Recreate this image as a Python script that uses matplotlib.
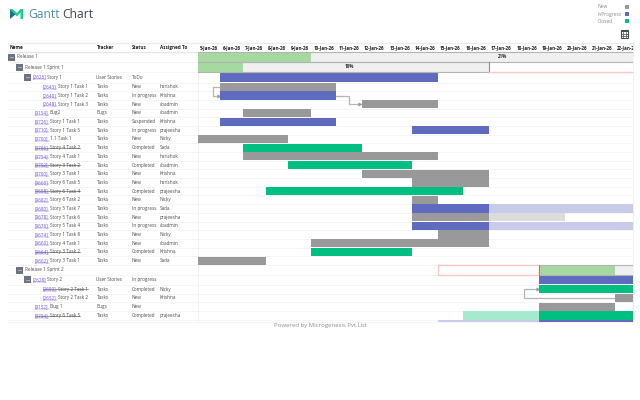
import numpy as np
import matplotlib
matplotlib.use('Agg')
import matplotlib.pyplot as plt
from matplotlib.patches import Polygon, Rectangle
from matplotlib.transforms import Bbox

plt.rcParams['font.family'] = ['Open Sans', 'DejaVu Sans']

# colours
BLUE = '#5f6bbf'
GRAY = '#999999'
GREEN = '#00bf81'
LIGHT_GREEN = '#a6d9a0'
LIGHT_BLUE = '#c8cbea'
LIGHT_GRAY = '#dcdcdc'
LIGHT_TEAL = '#a6e9cf'
TRACK = '#f0f0f0'
PINK = '#ffc6c6'
colors = {'new': GRAY, 'prog': BLUE, 'done': GREEN, 'sum': LIGHT_GREEN,
          'late_b': LIGHT_BLUE, 'late_g': LIGHT_GRAY, 'early': LIGHT_TEAL}

# the day columns, 5-Jan-26 onwards
day_labels = ['5-Jan-26', '6-Jan-26', '7-Jan-26', '8-Jan-26', '9-Jan-26', '10-Jan-26',
              '11-Jan-26', '12-Jan-26', '13-Jan-26', '14-Jan-26', '15-Jan-26', '16-Jan-26',
              '17-Jan-26', '18-Jan-26', '19-Jan-26', '20-Jan-26', '21-Jan-26', '22-Jan-26']
day_edges = [197.7, 220.4, 243, 265.7, 288.4, 311, 336.4, 361.6, 387, 412.4, 437.5, 463,
             488.5, 514, 539.3, 564.6, 590, 615, 640, 665]
day_index = np.arange(len(day_edges))

# table rows
row_ids = ['', '', '[2626]', '[2643]', '[2640]', '[2648]', '[9154]', '[9726]', '[9710]', '[9700]',
           '[9766]', '[9754]', '[9702]', '[9700]', '[9660]', '[9658]', '[9682]', '[9680]', '[9678]',
           '[9676]', '[9674]', '[9660]', '[9664]', '[9662]', '', '[2628]', '[2650]', '[2652]',
           '[9152]', '[9704]']
row_names = ['Release 1', 'Release 1 Sprint 1', 'Story 1', 'Story 1 Task 1', 'Story 1 Task 2',
             'Story 1 Task 3', 'Bug2', 'Story 1 Task 1', 'Story 1 Task 5', '1.1 Task 1',
             'Story 4 Task 2', 'Story 4 Task 1', 'Story 3 Task 2', 'Story 3 Task 1',
             'Story 6 Task 5', 'Story 6 Task 4', 'Story 6 Task 2', 'Story 5 Task 7',
             'Story 5 Task 6', 'Story 5 Task 4', 'Story 1 Task 8', 'Story 4 Task 1',
             'Story 3 Task 2', 'Story 3 Task 1', 'Release 1 Sprint 2', 'Story 2',
             'Story 2 Task 1', 'Story 2 Task 2', 'Bug 1', 'Story 6 Task 5']
trackers = ['', '', 'User Stories', 'Tasks', 'Tasks', 'Tasks', 'Bugs', 'Tasks', 'Tasks', 'Tasks',
            'Tasks', 'Tasks', 'Tasks', 'Tasks', 'Tasks', 'Tasks', 'Tasks', 'Tasks', 'Tasks',
            'Tasks', 'Tasks', 'Tasks', 'Tasks', 'Tasks', '', 'User Stories', 'Tasks', 'Tasks',
            'Bugs', 'Tasks']
statuses = ['', '', 'ToDo', 'New', 'In progress', 'New', 'New', 'Suspended', 'In progress', 'New',
            'Completed', 'New', 'Completed', 'New', 'New', 'Completed', 'New', 'In progress', 'New',
            'In progress', 'New', 'New', 'Completed', 'New', '', 'In progress', 'Completed', 'New',
            'New', 'Completed']
assignees = ['', '', '', 'harishok', 'Krishna', 'cbadmin', 'cbadmin', 'Krishna', 'prajeesha', 'Nicky',
             'Sada', 'harishok', 'cbadmin', 'Krishna', 'harishok', 'prajeesha', 'Nicky', 'Sada',
             'prajeesha', 'cbadmin', 'Nicky', 'cbadmin', 'Krishna', 'Sada', '', '', 'Nicky',
             'Krishna', '', 'prajeesha']
# row level: 0 release, 1 sprint, 2 story, 3 task under story, 4 loose task
levels = [0, 1, 2, 3, 3, 3, 4, 4, 4, 4, 4, 4, 4, 4, 4, 4, 4, 4, 4, 4, 4, 4, 4, 4, 1, 2, 3, 3, 4, 4]

# bars: row, first day, end day, kind (18 runs off the right edge)
bar_rows = [2, 3, 4, 5, 6, 7, 8, 9, 10, 11, 12, 13, 14, 15, 16, 17, 17, 18, 18, 19, 19, 20, 21, 22, 23,
            25, 26, 27, 28, 29, 29, 30, 30]
bar_start = [1, 1, 1, 7, 2, 1, 9, 0, 2, 2, 4, 7, 9, 3, 9, 9, 12, 9, 12, 9, 12, 10, 5, 5, 0,
             14, 14, 17, 14, 11, 14, 10, 14]
bar_end = [10, 6, 6, 10, 5, 6, 12, 4, 7, 10, 9, 12, 12, 11, 10, 12, 18, 12, 15, 12, 18, 12, 12, 9, 3,
           18, 18, 18, 17, 14, 18, 14, 18]
bar_kind = ['prog', 'new', 'prog', 'new', 'new', 'prog', 'prog', 'new', 'done', 'new', 'done', 'new',
            'new', 'done', 'new', 'prog', 'late_b', 'new', 'late_g', 'prog', 'late_b', 'new', 'new',
            'done', 'new', 'prog', 'done', 'new', 'new', 'early', 'done', 'late_b', 'prog']

# summary rows: row, track start, track end, done end, label
summary_rows = [0, 1, 24]
summary_start = [0, 0, 14]
summary_end = [18, 12, 18]
summary_done = [5, 2, 17]
summary_text = ['21%', '18%', '']

legend_names = ['New', 'InProgress', 'Closed']
legend_colors = [GRAY, BLUE, GREEN]

headers = ['Name', 'Tracker', 'Status', 'Assigned To']
header_x = [10, 96.5, 132, 159.5]

TEXT = 3.3

# row edges in pixels, group rows are a little taller
row_edges = [52, 62, 72, 82.5] + [82.5 + 8.69*i for i in range(1, 22)]
row_edges += [275, 284.7, 293.5, 302.3, 311.1, 320, 328.8]
row_edges = np.array(row_edges)
row_mid = (row_edges[:-1] + row_edges[1:])/2


def forward(x):
    return np.interp(x, day_index, day_edges)


def inverse(x):
    return np.interp(x, day_edges, day_index)


fig = plt.figure(figsize=(6.4, 4.0), dpi=100)
bg = fig.add_axes([0, 0, 1, 1])
bg.set_xlim(0, 640)
bg.set_ylim(400, 0)
bg.axis('off')
renderer = fig.canvas.get_renderer()

# logo and title
bg.add_patch(Polygon([[10, 9], [10, 19], [16, 14]], fc='#1f6f8f', ec='none'))
bg.add_patch(Polygon([[10, 9], [12.5, 9], [17, 13], [20.5, 9], [23, 9], [23, 19], [20.5, 19],
                      [20.5, 12.5], [17, 16.5]], fc='#1fd08c', ec='none'))
bg.text(28, 15, 'Gantt', fontsize=8.7, color='#4f8f9f', va='center')
bg.text(62.5, 15, 'Chart', fontsize=8.7, color='#3c4650', va='center')

# legend
for i, (name, col) in enumerate(zip(legend_names, legend_colors)):
    y = 7 + 7.2*i
    bg.text(598, y, name, fontsize=3.5, color='#8a8a8a', va='center')
    bg.add_patch(Rectangle((624.5, y - 2), 4, 4, fc=col, ec='none'))

# calendar icon
bg.add_patch(Rectangle((620.5, 30), 7.5, 7.5, fc='white', ec='#444c55', lw=0.8))
bg.add_patch(Rectangle((620.5, 30), 7.5, 1.8, fc='#444c55', ec='none'))
for x in [623, 625.5]:
    bg.plot([x, x], [31.8, 37.5], color='#444c55', lw=0.5)
for y in [33.8, 35.7]:
    bg.plot([620.5, 628], [y, y], color='#444c55', lw=0.5)

# table frame and row lines
bg.plot([8, 633], [42.5, 42.5], color='#ececec', lw=1)
bg.plot([8, 633], [51.8, 51.8], color='#e6e6e6', lw=1)
for y in row_edges[1:-1]:
    bg.plot([8, 633], [y, y], color='#f5f5f5', lw=0.7)
bg.plot([197.5, 197.5], [52, 322], color='#efefef', lw=0.7)
bg.plot([632.8, 632.8], [42, 322], color='#efefef', lw=0.7)
bg.plot([8, 633], [322, 322], color='#f3f3f3', lw=0.6)

for name, x in zip(headers, header_x):
    bg.text(x, 47.5, name, fontsize=TEXT, fontweight='bold', color='#222222', va='center')

# table text
id_x = {2: 32.5, 3: 43, 4: 35}
name_x = {0: 17, 1: 25}
icon_x = {0: 8, 1: 16, 2: 24}
for i, y in enumerate(row_mid[:len(row_names)]):
    lev = levels[i]
    if lev in icon_x:
        bg.add_patch(Rectangle((icon_x[lev], y - 3.4), 7, 7, fc='#6d7480', ec='none'))
        bg.plot([icon_x[lev] + 2, icon_x[lev] + 5], [y, y], color='#c8ccd2', lw=0.5)
    done = statuses[i] == 'Completed'
    if row_ids[i]:
        t = bg.text(id_x[lev], y, row_ids[i], fontsize=TEXT, color='#7a52e0', va='center')
        w = t.get_window_extent(renderer).width
        bg.plot([id_x[lev], id_x[lev] + w], [y + 2, y + 2], color='#7a52e0', lw=0.3)
        x = id_x[lev] + w + 1.2
    else:
        x = name_x[lev]
    t = bg.text(x, y, row_names[i], fontsize=TEXT, color='#4a4a4a', va='center')
    if done:
        w = t.get_window_extent(renderer).width
        bg.plot([id_x[lev], x + w], [y, y], color='#4a4a4a', lw=0.4)
    bg.text(96.5, y, trackers[i], fontsize=TEXT, color='#4a4a4a', va='center')
    bg.text(132, y, statuses[i], fontsize=TEXT, color='#4a4a4a', va='center')
    bg.text(159.5, y, assignees[i], fontsize=TEXT, color='#4a4a4a', va='center')

bg.text(320.5, 326, 'Powered by Microgenesis Pvt.Ltd', fontsize=4.3, color='#8c8c8c',
        ha='center', va='center')

# the chart itself
gantt = fig.add_axes([197.7/640, (400 - 322)/400, (633 - 197.7)/640, (322 - 52)/400])
gantt.set_xscale('function', functions=(forward, inverse))
gantt.set_xlim(0, inverse(633))
gantt.set_ylim(322, 52)
gantt.axis('off')

for i, label in enumerate(day_labels):
    t = gantt.text(i + 0.5, 47.5, label, fontsize=3.3, fontweight='bold', color='#222222',
                   ha='center', va='center')
    t.set_clip_on(True)
    t.set_clip_box(Bbox([[0, 0], [633, 400]]))

for r, a, b, d, label in zip(summary_rows, summary_start, summary_end, summary_done, summary_text):
    top, bot = row_edges[r], row_edges[r + 1]
    gantt.barh((top + bot)/2, b - a, left=a, height=bot - top - 0.6, color=TRACK, zorder=2)
    gantt.barh((top + bot)/2, d - a, left=a, height=bot - top - 0.6, color=LIGHT_GREEN, zorder=3)
    gantt.plot([a, b], [top + 0.2, top + 0.2], color='#b4b4b4', lw=0.8, zorder=4)
    gantt.plot([a, b], [bot - 0.2, bot - 0.2], color='#b4b4b4', lw=0.8, zorder=4)
    if label:
        gantt.text(inverse((forward(a) + forward(b))/2 + (6 if r == 1 else 84)), (top + bot)/2, label,
                   fontsize=TEXT, fontweight='bold', color='#333333', ha='center', va='center', zorder=5)

# late markers
gantt.plot([12, 12], [row_edges[1], row_edges[2]], color='#8c8c8c', lw=0.8, zorder=4)
gantt.plot([12, 18], [row_edges[2] - 0.4, row_edges[2] - 0.4], color=PINK, lw=1, zorder=4)
gantt.add_patch(Rectangle((10, row_edges[24] + 0.3), 4, row_edges[25] - row_edges[24] - 0.6,
                          fc='white', ec=PINK, lw=1, zorder=3))
gantt.plot([14, 14], [row_edges[24], row_edges[25]], color='#8c8c8c', lw=0.8, zorder=4)

for r, a, b, kind in zip(bar_rows, bar_start, bar_end, bar_kind):
    top, bot = row_edges[r], row_edges[r + 1]
    gantt.barh((top + bot)/2, b - a, left=a, height=bot - top - 0.5, color=colors[kind], zorder=3)


def connector(xs, ys):
    # elbow line between two tasks, the xs are pixel offsets from day edges
    gantt.plot(inverse(np.array(xs)), ys, color='#b5b5b5', lw=0.9, zorder=2, solid_joinstyle='miter')
    gantt.plot(inverse(xs[-1] - 1.5), ys[-1], '>', ms=3, color='#9a9a9a', mew=0, zorder=2)


connector([forward(1), forward(1) - 7, forward(1) - 7, forward(1)],
          [row_mid[3], row_mid[3], row_mid[4], row_mid[4]])
connector([forward(6), forward(6) + 12.5, forward(6) + 12.5, forward(7)],
          [row_mid[4], row_mid[4], row_mid[5], row_mid[5]])
connector([forward(17), forward(14) - 15, forward(14) - 15, forward(14)],
          [row_mid[27], row_mid[27], row_mid[26], row_mid[26]])

fig.savefig('out.png', dpi=100)
plt.close()
